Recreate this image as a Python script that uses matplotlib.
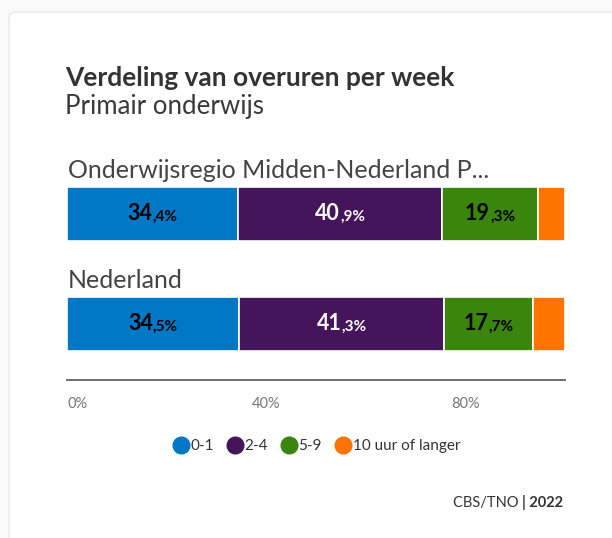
import matplotlib
matplotlib.use("Agg")
import matplotlib.pyplot as plt
import numpy as np
from matplotlib.patches import FancyBboxPatch
from matplotlib.offsetbox import TextArea, HPacker, AnnotationBbox

categories = ["Onderwijsregio Midden-Nederland P...", "Nederland"]
series_names = ["0-1", "2-4", "5-9", "10 uur of langer"]
values_0_1 = [34.4, 34.5]
values_2_4 = [40.9, 41.3]
values_5_9 = [19.3, 17.7]
values_10 = [5.4, 6.5]
tick_values = [0, 40, 80]
tick_labels = ["0%", "40%", "80%"]
colors = ["#0078c6", "#45155c", "#3a850c", "#ff7300"]
text_colors = ["black", "white", "black", "black"]

W, H = 612, 538
DPI = 100
plt.rcParams["font.family"] = ["Lato", "DejaVu Sans"]
fig = plt.figure(figsize=(W / DPI, H / DPI), dpi=DPI)
fig.patch.set_facecolor("#f9f9f9")

def fx(px):
    return px / W

def fy(py):
    return 1 - py / H

# card
card = FancyBboxPatch((fx(9), fy(H + 20)), fx(W + 20), (H + 20 - 12) / H,
                      boxstyle="round,pad=0,rounding_size=0.012",
                      transform=fig.transFigure, facecolor="white",
                      edgecolor="#ececec", linewidth=1.2, zorder=-5)
fig.patches.append(card)

# axes: x 67..565, y 150..380 px
ax_left, ax_right, ax_top, ax_bot = 67, 565, 150, 380
ax = fig.add_axes([fx(ax_left), fy(ax_bot), fx(ax_right - ax_left), (ax_bot - ax_top) / H])
ax.set_zorder(2)
ax.set_facecolor("none")
ax.set_xlim(0, 100)
ax.set_ylim(1 + 56 / 110, -64 / 110)

series = [values_0_1, values_2_4, values_5_9, values_10]
y = np.arange(len(categories))
left = np.zeros(len(categories))
for vals, col, tcol in zip(series, colors, text_colors):
    vals = np.array(vals)
    ax.barh(y, vals, left=left, height=54 / 110, color=col,
            edgecolor="white", linewidth=1.2, zorder=2)
    for yi, (l, v) in enumerate(zip(left, vals)):
        if v >= 10:
            s = f"{v:.1f}".replace(".", ",")
            big, small = s.split(",")
            box = HPacker(children=[
                TextArea(big, textprops=dict(fontsize=15.5, fontweight="bold", color=tcol)),
                TextArea("," + small + "%", textprops=dict(fontsize=11, fontweight="bold", color=tcol)),
            ], align="baseline", pad=0, sep=0)
            ab = AnnotationBbox(box, (l + v / 2, yi), frameon=False,
                                box_alignment=(0.5, 0.5), zorder=3)
            ax.add_artist(ab)
    left = left + vals

for yi, cat in enumerate(categories):
    ax.text(0.2, yi - 0.33, cat, fontsize=18, color="#444444", ha="left",
            va="baseline")

for sp in ["top", "right", "left"]:
    ax.spines[sp].set_visible(False)
ax.spines["bottom"].set_color("#555555")
ax.spines["bottom"].set_linewidth(1.2)
ax.set_yticks([])
ax.set_xticks(tick_values)
ax.set_xticklabels(tick_labels, fontsize=10.5, color="#777777")
ax.get_xticklabels()[0].set_ha("left")
ax.tick_params(axis="x", length=0, pad=12)

# title
fig.text(fx(65), fy(86), "Verdeling van overuren per week", fontsize=19,
         fontweight="bold", color="#333333", ha="left", va="baseline")
fig.text(fx(65), fy(114), "Primair onderwijs", fontsize=18.6,
         color="#3a3a3a", ha="left", va="baseline")

# legend
handles = [plt.Line2D([], [], marker="o", linestyle="", markersize=12,
                      markerfacecolor=c, markeredgecolor=c) for c in colors]
fig.legend(handles, series_names, loc="center", bbox_to_anchor=(fx(316), fy(446)),
           ncol=4, frameon=False, fontsize=11, handletextpad=0.0,
           columnspacing=0.8, labelcolor="#333333", handlelength=1.2)

# source
src = TextArea("CBS/TNO ", textprops=dict(fontsize=10.5, color="#333333"))
yr = TextArea("| 2022", textprops=dict(fontsize=10.5, color="#333333", fontweight="bold"))
pk = HPacker(children=[src, yr], align="baseline", pad=0, sep=0)
ab = AnnotationBbox(pk, (fx(563), fy(502)), xycoords="figure fraction",
                    frameon=False, box_alignment=(1.0, 0.5))
fig.add_artist(ab)

fig.savefig("out.png", dpi=DPI, facecolor=fig.get_facecolor())
